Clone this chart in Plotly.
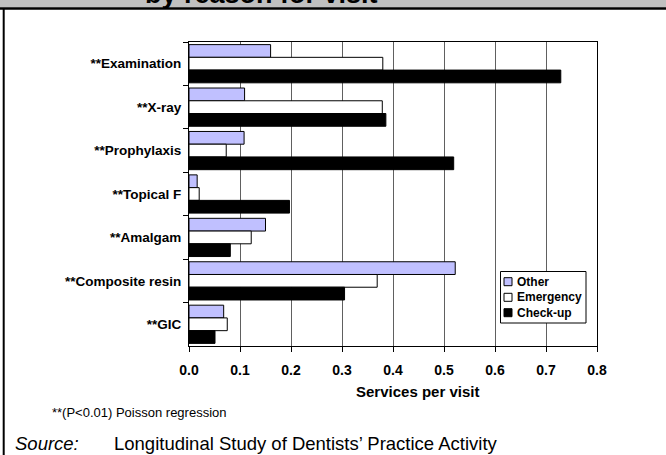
import plotly.graph_objects as go

# ---- data ----
categories = ["**Examination", "**X-ray", "**Prophylaxis", "**Topical F",
              "**Amalgam", "**Composite resin", "**GIC"]
series_names = ["Other", "Emergency", "Check-up"]
other = [0.160, 0.109, 0.108, 0.016, 0.150, 0.522, 0.068]
emergency = [0.380, 0.379, 0.073, 0.020, 0.122, 0.369, 0.075]
checkup = [0.729, 0.386, 0.519, 0.197, 0.081, 0.305, 0.051]
x_ticks = [0.0, 0.1, 0.2, 0.3, 0.4, 0.5, 0.6, 0.7, 0.8]

colors = ["#C0C0FF", "#FFFFFF", "#000000"]
values = [other, emergency, checkup]

W, H = 666, 455
L, R, T, B = 189, 597, 42, 346

def fx(p):
    return (p - L) / (R - L)

def fy(p):
    return (B - p) / (B - T)

FONT = "Liberation Sans, Arial, sans-serif"

fig = go.Figure()
for name, vals, col in zip(series_names, values, colors):
    fig.add_trace(go.Bar(
        y=categories, x=vals, orientation="h", name=name,
        marker=dict(color=col, line=dict(color="#000000", width=1)),
        showlegend=False,
    ))

fig.update_layout(
    width=W, height=H,
    margin=dict(l=L, r=W - R, t=T, b=H - B, pad=0),
    paper_bgcolor="white", plot_bgcolor="white",
    barmode="group", bargap=0.12, bargroupgap=0,
    font=dict(family=FONT, color="#000000"),
)

fig.update_xaxes(
    range=[0, 0.8], tickvals=x_ticks, tickformat=".1f",
    ticks="outside", ticklen=5, tickcolor="#000000",
    showgrid=True, gridcolor="#606060", gridwidth=1,
    showline=True, linecolor="#000000", linewidth=1, mirror=True,
    tickfont=dict(size=14, family=FONT, weight="bold"),
    ticklabelstandoff=6, zeroline=False,
)
fig.update_yaxes(
    categoryorder="array", categoryarray=categories, autorange="reversed",
    ticks="outside", ticklen=5, tickcolor="#000000", tickson="boundaries",
    showgrid=False, showline=True, linecolor="#000000", linewidth=1, mirror=True,
    tickfont=dict(size=13.5, family=FONT, weight="bold"),
    ticklabelstandoff=4,
)

shapes = []
# top gray band and black rule
shapes.append(dict(type="rect", xref="paper", yref="paper",
                   x0=fx(0), x1=fx(W), y0=fy(7.5), y1=fy(-2),
                   fillcolor="#C0C0C0", line=dict(width=0), layer="below"))
shapes.append(dict(type="line", xref="paper", yref="paper",
                   x0=fx(0), x1=fx(W), y0=fy(8.5), y1=fy(8.5),
                   line=dict(color="#000000", width=2.5)))
# left border
shapes.append(dict(type="line", xref="paper", yref="paper",
                   x0=fx(3.7), x1=fx(3.7), y0=fy(8.5), y1=fy(H + 2),
                   line=dict(color="#000000", width=2)))
# legend box
shapes.append(dict(type="rect", xref="paper", yref="paper",
                   x0=fx(500.5), x1=fx(586), y0=fy(323), y1=fy(271.5),
                   fillcolor="#FFFFFF", line=dict(color="#000000", width=1)))
annotations = []
legend_y = [281.7, 297.3, 312.7]
for name, col, yc in zip(series_names, colors, legend_y):
    shapes.append(dict(type="rect", xref="paper", yref="paper",
                       x0=fx(504), x1=fx(512), y0=fy(yc + 4), y1=fy(yc - 4),
                       fillcolor=col, line=dict(color="#000000", width=1)))
    annotations.append(dict(text=name, xref="paper", yref="paper",
                            x=fx(514.5), y=fy(yc), xanchor="left", yanchor="middle",
                            showarrow=False,
                            font=dict(size=12, family=FONT, weight="bold", color="#000000")))

# partially visible title (cut off by the top edge, as in the reference)
annotations.append(dict(text="by reason for visit", xref="paper", yref="paper",
                        x=fx(261), y=fy(11), xanchor="center", yanchor="bottom",
                        showarrow=False,
                        font=dict(size=27, family=FONT, weight="bold", color="#000000")))
# axis title
annotations.append(dict(text="Services per visit", xref="paper", yref="paper",
                        x=fx(417), y=fy(391.7), xanchor="center", yanchor="middle",
                        showarrow=False,
                        font=dict(size=15, family=FONT, weight="bold", color="#000000")))
# footnote
annotations.append(dict(text="**(P&lt;0.01) Poisson regression", xref="paper", yref="paper",
                        x=fx(50), y=fy(412), xanchor="left", yanchor="middle",
                        showarrow=False,
                        font=dict(size=13, family=FONT, color="#000000")))
# source
annotations.append(dict(text="<i>Source:</i>", xref="paper", yref="paper",
                        x=fx(12.5), y=fy(443.5), xanchor="left", yanchor="middle",
                        showarrow=False,
                        font=dict(size=18.5, family=FONT, color="#000000")))
annotations.append(dict(text="Longitudinal Study of Dentists\u2019 Practice Activity",
                        xref="paper", yref="paper",
                        x=fx(112), y=fy(443.5), xanchor="left", yanchor="middle",
                        showarrow=False,
                        font=dict(size=18.5, family=FONT, color="#000000")))

fig.update_layout(shapes=shapes, annotations=annotations)
fig.write_html("out.html",
               config={"displayModeBar": False},
               post_script="document.body.style.margin='0';document.body.style.overflow='hidden';")
